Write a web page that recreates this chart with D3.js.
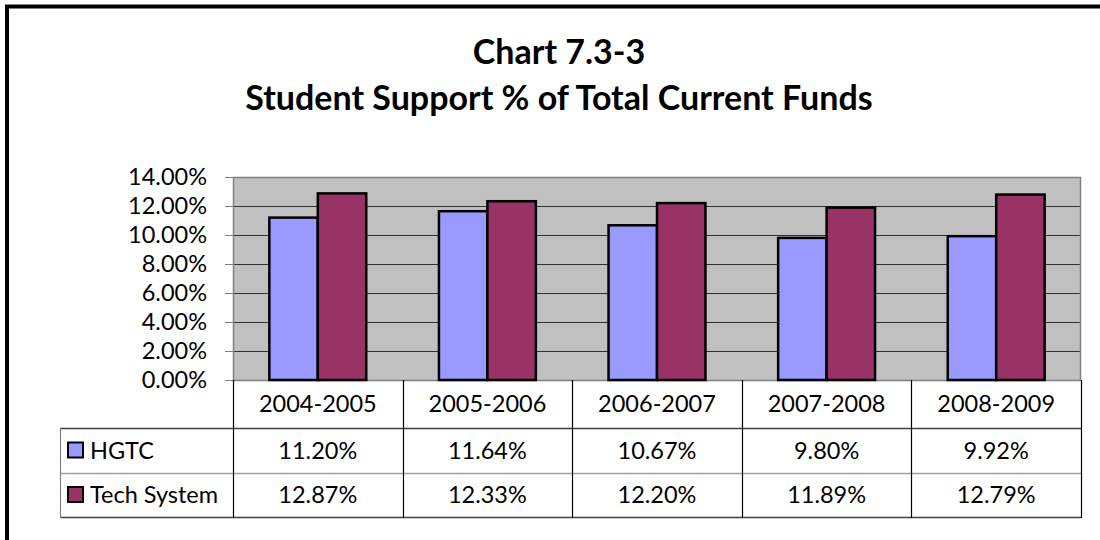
<!DOCTYPE html>
<html>
<head>
<meta charset="utf-8">
<script src="https://d3js.org/d3.v7.min.js"></script>
<style>
    body { margin: 0; background: #fff; }
    svg { display: block; }
    text { font-family: Lato, "Open Sans", sans-serif; fill: #000; }
</style>
</head>
<body>
<div id="chart"></div>
<script>
    // data
    var years = ["2004-2005", "2005-2006", "2006-2007", "2007-2008", "2008-2009"];
    var seriesNames = ["HGTC", "Tech System"];
    var hgtc = [11.20, 11.64, 10.67, 9.80, 9.92];
    var techSystem = [12.87, 12.33, 12.20, 11.89, 12.79];
    var yTicks = [0, 2, 4, 6, 8, 10, 12, 14];
    var colors = ["#9999FF", "#993366"];
    var titleLines = ["Chart 7.3-3", "Student Support % of Total Current Funds"];

    var values = [hgtc, techSystem];
    var width = 1100, height = 540;
    var plot = { left: 233, right: 1081, top: 177, bottom: 380 };
    var tableLeft = 60;
    var rowBottoms = [428, 473, 517];
    var fontSize = 23.5;

    var svg = d3.select("#chart").append("svg")
        .attr("width", width)
        .attr("height", height);

    // outer frame (top + left only visible)
    svg.append("path")
        .attr("d", "M7,540 V6.5 H1100")
        .attr("fill", "none")
        .attr("stroke", "#000")
        .attr("stroke-width", 4);

    // title
    svg.append("g").selectAll("text")
        .data(titleLines)
        .enter().append("text")
        .attr("x", 559)
        .attr("y", function (d, i) { return 64 + i * 46; })
        .attr("text-anchor", "middle")
        .attr("font-weight", "bold")
        .attr("font-size", 34)
        .text(function (d) { return d; });

    var x0 = d3.scaleBand()
        .domain(years)
        .range([plot.left, plot.right]);

    var x1 = d3.scaleBand()
        .domain(seriesNames)
        .range([0, x0.bandwidth()])
        .paddingInner(0)
        .paddingOuter(0.75);

    var y = d3.scaleLinear()
        .domain([0, 14])
        .range([plot.bottom, plot.top]);

    // plot background
    svg.append("rect")
        .attr("x", plot.left)
        .attr("y", plot.top)
        .attr("width", plot.right - plot.left)
        .attr("height", plot.bottom - plot.top)
        .attr("fill", "#C0C0C0");

    // gridlines
    svg.append("g").selectAll("line")
        .data(yTicks.slice(1, -1))
        .enter().append("line")
        .attr("x1", plot.left)
        .attr("x2", plot.right)
        .attr("y1", function (d) { return Math.round(y(d)) + 0.5; })
        .attr("y2", function (d) { return Math.round(y(d)) + 0.5; })
        .attr("stroke", "#303030")
        .attr("stroke-width", 1);

    // plot border
    svg.append("rect")
        .attr("x", plot.left + 0.5)
        .attr("y", plot.top + 0.5)
        .attr("width", plot.right - plot.left - 1)
        .attr("height", plot.bottom - plot.top)
        .attr("fill", "none")
        .attr("stroke", "#808080")
        .attr("stroke-width", 1.5);

    // bars
    var groups = svg.append("g").selectAll("g")
        .data(years)
        .enter().append("g")
        .attr("transform", function (d) { return "translate(" + x0(d) + ",0)"; });

    groups.selectAll("rect")
        .data(function (d, i) {
            return seriesNames.map(function (s, j) { return { s: s, j: j, v: values[j][i] }; });
        })
        .enter().append("rect")
        .attr("x", function (d) { return x1(d.s); })
        .attr("y", function (d) { return y(d.v); })
        .attr("width", x1.bandwidth())
        .attr("height", function (d) { return y(0) - y(d.v); })
        .attr("fill", function (d) { return colors[d.j]; })
        .attr("stroke", "#000")
        .attr("stroke-width", 2.5);

    // y axis
    var yAxis = svg.append("g")
        .attr("transform", "translate(" + plot.left + ",0)")
        .call(d3.axisLeft(y)
            .tickValues(yTicks)
            .tickSize(8)
            .tickPadding(18)
            .tickFormat(function (d) { return d.toFixed(2) + "%"; }));
    yAxis.select(".domain").remove();
    yAxis.selectAll(".tick line").attr("stroke", "#808080");
    yAxis.selectAll("text")
        .attr("font-family", "Lato, sans-serif")
        .attr("font-size", fontSize)
        .attr("fill", "#000");

    // data table
    var table = svg.append("g");

    // category header
    table.selectAll(".cat")
        .data(years)
        .enter().append("text")
        .attr("class", "cat")
        .attr("x", function (d) { return x0(d) + x0.bandwidth() / 2; })
        .attr("y", 412)
        .attr("text-anchor", "middle")
        .attr("font-size", fontSize)
        .text(function (d) { return d; });

    // value rows
    seriesNames.forEach(function (s, j) {
        var top = rowBottoms[j], bottom = rowBottoms[j + 1];
        var mid = (top + bottom) / 2;
        table.append("g").selectAll("text")
            .data(values[j])
            .enter().append("text")
            .attr("x", function (d, i) { return x0(years[i]) + x0.bandwidth() / 2; })
            .attr("y", mid + 8)
            .attr("text-anchor", "middle")
            .attr("font-size", fontSize)
            .text(function (d) { return d.toFixed(2) + "%"; });

        table.append("rect")
            .attr("x", 68)
            .attr("y", mid - 8)
            .attr("width", 15)
            .attr("height", 15)
            .attr("fill", colors[j])
            .attr("stroke", "#000")
            .attr("stroke-width", 2);

        table.append("text")
            .attr("x", 90)
            .attr("y", mid + 8)
            .attr("font-size", fontSize)
            .text(s);
    });

    // table lines
    var hLines = [
        { y: rowBottoms[0], c: "#404040" },
        { y: rowBottoms[1], c: "#a0a0a0" },
        { y: rowBottoms[2], c: "#404040" }
    ];
    table.selectAll(".hl")
        .data(hLines)
        .enter().append("line")
        .attr("class", "hl")
        .attr("x1", tableLeft)
        .attr("x2", plot.right)
        .attr("y1", function (d) { return d.y + 0.5; })
        .attr("y2", function (d) { return d.y + 0.5; })
        .attr("stroke", function (d) { return d.c; })
        .attr("stroke-width", 1.5);

    var vx = years.map(function (d) { return x0(d); }).concat([plot.right]);
    table.selectAll(".vl")
        .data(vx)
        .enter().append("line")
        .attr("class", "vl")
        .attr("x1", function (d) { return Math.round(d) + 0.5; })
        .attr("x2", function (d) { return Math.round(d) + 0.5; })
        .attr("y1", plot.bottom)
        .attr("y2", rowBottoms[2] + 1)
        .attr("stroke", "#000")
        .attr("stroke-width", 1.2);

    table.append("line")
        .attr("x1", tableLeft + 0.5)
        .attr("x2", tableLeft + 0.5)
        .attr("y1", rowBottoms[0])
        .attr("y2", rowBottoms[2] + 1)
        .attr("stroke", "#808080")
        .attr("stroke-width", 1.2);
</script>
</body>
</html>
